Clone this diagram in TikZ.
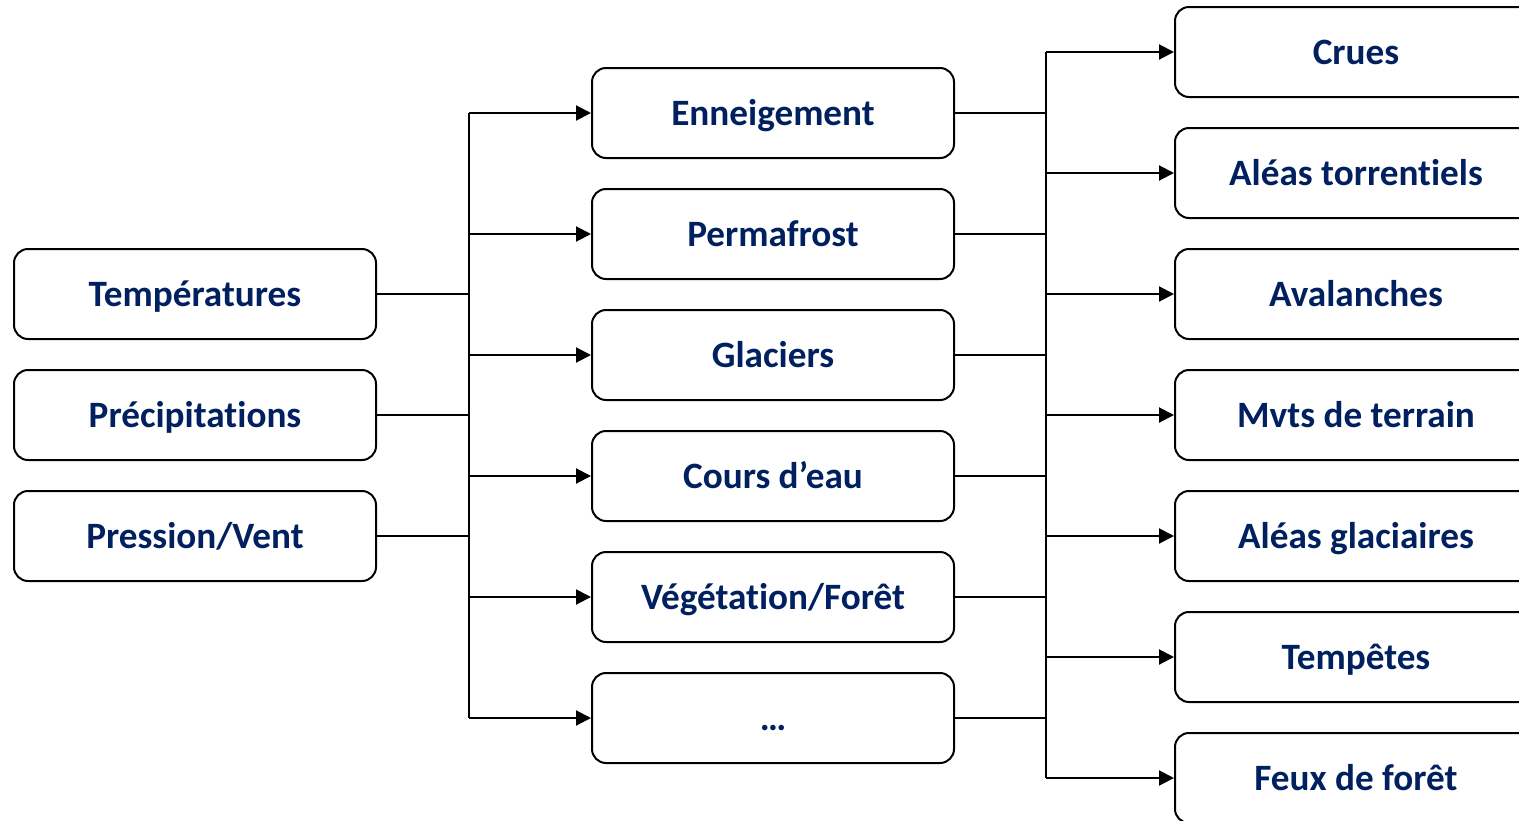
\documentclass[tikz,border=0pt]{standalone}
\usepackage{fontspec}
\setmainfont[Ligatures=NoCommon]{Carlito}
\usetikzlibrary{arrows.meta}
\definecolor{navytext}{RGB}{0,32,96}

\begin{document}
\begin{tikzpicture}[
    x=0.5pt, y=-0.5pt,
    box/.style={draw=black, line width=1pt, rounded corners=7pt, fill=white,
      minimum width=181pt, minimum height=45pt, inner sep=0pt,
      text height=15.5pt, text depth=3pt,
      font=\fontsize{18.6}{20}\selectfont\bfseries, text=navytext},
    link/.style={line width=1pt},
    feed/.style={link, -{Triangle[length=7.5pt, width=7.5pt]}}
  ]
    \useasboundingbox (0,0) rectangle (1519,820);
    \clip (0,0) rectangle (1519,820);

    % parametres climatiques
    \foreach \name/\txt [count=\i from 0] in {temp/Températures, precip/Précipitations, pression/{Pression/Vent}} {
      \node[box] (\name) at (195, 294+121*\i) {\txt};
    }

    % milieux
    \foreach \name/\txt [count=\i from 0] in {enneig/Enneigement, perma/Permafrost, glac/Glaciers, cours/Cours d’eau, veget/{Végétation/Forêt}, autres/{…}} {
      \node[box] (\name) at (773, 113+121*\i) {\txt};
    }

    % aleas
    \foreach \name/\txt [count=\i from 0] in {crues/Crues, torrent/Aléas torrentiels, aval/Avalanches, mvts/Mvts de terrain, glaciaires/Aléas glaciaires, tempetes/Tempêtes, feux/Feux de forêt} {
      \node[box] (\name) at (1356, 52+121*\i) {\txt};
    }

    \coordinate (busL) at (469,0);
    \coordinate (busR) at (1046,0);

    % vers les milieux
    \foreach \n in {temp, precip, pression}
      \draw[link] (\n.east) -- (\n.east -| busL);
    \draw[link] (enneig.west -| busL) -- (autres.west -| busL);
    \foreach \n in {enneig, perma, glac, cours, veget, autres}
      \draw[feed] (\n.west -| busL) -- (\n.west);

    % vers les aleas
    \foreach \n in {enneig, perma, glac, cours, veget, autres}
      \draw[link] (\n.east) -- (\n.east -| busR);
    \draw[link] (crues.west -| busR) -- (feux.west -| busR);
    \foreach \n in {crues, torrent, aval, mvts, glaciaires, tempetes, feux}
      \draw[feed] (\n.west -| busR) -- (\n.west);
\end{tikzpicture}
\end{document}
